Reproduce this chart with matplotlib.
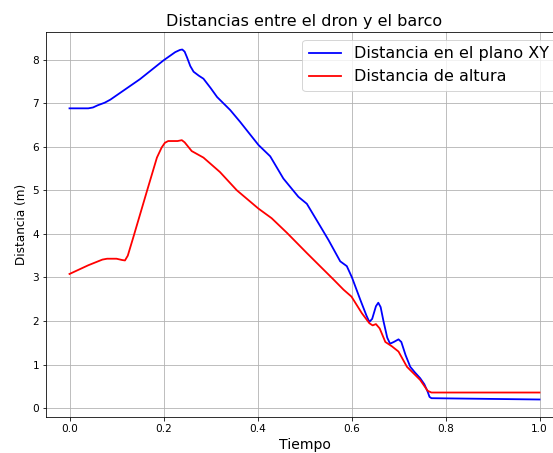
import matplotlib
matplotlib.use("Agg")
import matplotlib.pyplot as plt

plt.rcParams["savefig.bbox"] = "standard"

t_xy = [0, 0.04, 0.05, 0.06, 0.075, 0.087, 0.15, 0.2, 0.225, 0.235, 0.24, 0.245, 0.25,
        0.257, 0.264, 0.275, 0.285, 0.3, 0.314, 0.342, 0.363, 0.374, 0.402, 0.427,
        0.455, 0.487, 0.505, 0.53, 0.551, 0.576, 0.59, 0.601, 0.619, 0.632, 0.638,
        0.644, 0.652, 0.657, 0.662, 0.668, 0.676, 0.682, 0.69, 0.7, 0.706, 0.715,
        0.725, 0.735, 0.746, 0.755, 0.762, 0.766, 0.77, 1.0]
d_xy = [6.88, 6.88, 6.9, 6.95, 7.01, 7.08, 7.55, 7.98, 8.17, 8.22, 8.23, 8.18, 8.05,
        7.85, 7.72, 7.63, 7.56, 7.35, 7.14, 6.84, 6.57, 6.42, 6.04, 5.78,
        5.27, 4.85, 4.69, 4.24, 3.86, 3.37, 3.26, 3.0, 2.48, 2.12, 1.98,
        2.05, 2.34, 2.42, 2.32, 2.0, 1.62, 1.48, 1.52, 1.58, 1.52, 1.22,
        0.95, 0.82, 0.69, 0.55, 0.38, 0.26, 0.23, 0.20]

t_z = [0, 0.04, 0.07, 0.08, 0.1, 0.112, 0.118, 0.124, 0.136, 0.165, 0.186, 0.196, 0.203,
       0.21, 0.23, 0.239, 0.245, 0.26, 0.285, 0.32, 0.356, 0.402, 0.43, 0.463, 0.505,
       0.533, 0.562, 0.583, 0.6, 0.622, 0.638, 0.645, 0.652, 0.66, 0.672, 0.686, 0.7,
       0.718, 0.746, 0.762, 0.77, 1.0]
d_z = [3.08, 3.28, 3.41, 3.43, 3.43, 3.4, 3.39, 3.5, 3.93, 4.99, 5.75, 5.98, 6.09,
       6.13, 6.13, 6.15, 6.1, 5.9, 5.75, 5.42, 5.0, 4.58, 4.36, 4.02, 3.56,
       3.26, 2.95, 2.72, 2.56, 2.18, 1.95, 1.9, 1.93, 1.83, 1.52, 1.42, 1.3,
       0.95, 0.65, 0.4, 0.36, 0.36]

W, H = 553, 453
DPI = 72
fig = plt.figure(figsize=(W / DPI, H / DPI), dpi=DPI)
ax = fig.add_axes([46 / W, (H - 417) / H, 517 / W, (417 - 32) / H])
ax.plot(t_xy, d_xy, color="blue", lw=1.8, label="Distancia en el plano XY")
ax.plot(t_z, d_z, color="red", lw=1.8, label="Distancia de altura")
ax.set_title("Distancias entre el dron y el barco", fontsize=16)
ax.set_xlabel("Tiempo", fontsize=14)
ax.set_ylabel("Distancia (m)", fontsize=12)
ax.tick_params(labelsize=10.5)
ax.spines["right"].set_visible(False)
ax.grid(True)
ax.legend(loc="upper right", fontsize=16)
fig.savefig("out.png", dpi=DPI)
